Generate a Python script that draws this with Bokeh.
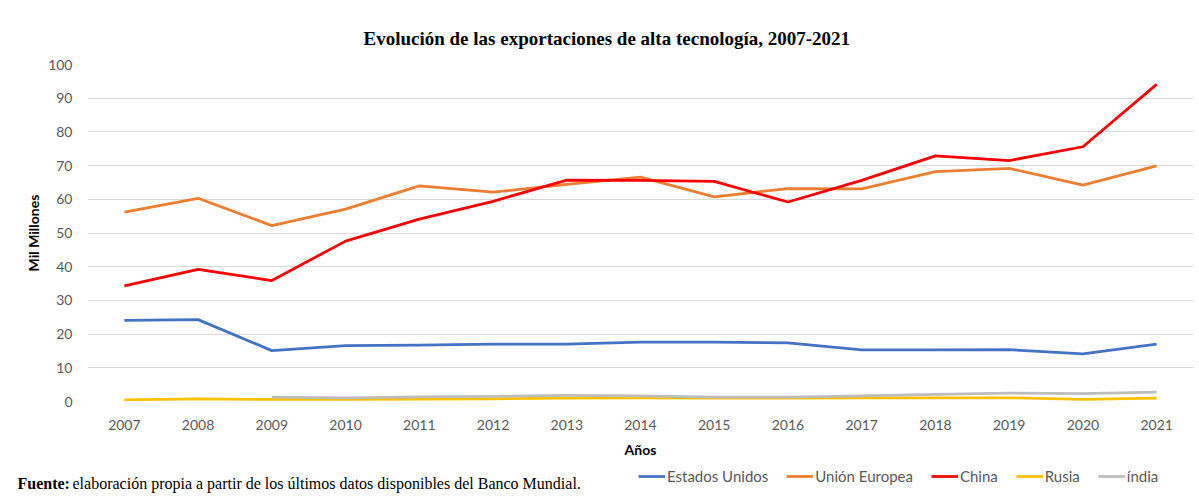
from bokeh.plotting import figure
from bokeh.models import Range1d, FixedTicker, Label, Legend, LegendItem
from bokeh.layouts import column
from bokeh.embed import file_html
from bokeh.resources import INLINE

years = list(range(2007, 2022))
estados_unidos = [24.1, 24.3, 15.1, 16.6, 16.7, 17.0, 17.0, 17.6, 17.6, 17.4, 15.3, 15.3, 15.4, 14.1, 17.0]
union_europea = [56.2, 60.3, 52.2, 57.1, 64.0, 62.1, 64.4, 66.6, 60.7, 63.2, 63.1, 68.2, 69.2, 64.2, 69.9]
china = [34.3, 39.2, 35.9, 47.6, 54.1, 59.4, 65.7, 65.6, 65.3, 59.2, 65.6, 72.9, 71.5, 75.6, 94.1]
rusia = [0.5, 0.8, 0.6, 0.6, 0.7, 0.8, 1.0, 1.1, 1.0, 1.0, 1.1, 1.1, 1.1, 0.6, 1.0]
india_years = list(range(2009, 2022))
india = [1.3, 1.1, 1.4, 1.5, 1.8, 1.7, 1.3, 1.3, 1.7, 2.1, 2.5, 2.3, 2.8]
y_ticks = list(range(0, 101, 10))

names = ["Estados Unidos", "Unión Europea", "China", "Rusia", "índia"]
colors = ["#4472C4", "#ED7D31", "#FF0000", "#FFC000", "#BDBDBD"]
series = [(years, estados_unidos), (years, union_europea), (years, china),
          (years, rusia), (india_years, india)]

W = 1196
H1 = 460
H2 = 40

p = figure(width=W, height=H1, output_backend="svg", toolbar_location=None,
           x_range=Range1d(2006.5, 2021.5), y_range=Range1d(0, 100),
           min_border_left=87, min_border_right=3, min_border_top=64, min_border_bottom=56)
p.frame_align = False
p.outline_line_color = None
p.border_fill_color = "white"

p.title.text = "Evolución de las exportaciones de alta tecnología, 2007-2021"
p.title.text_font = "Liberation Serif"
p.title.text_font_size = "19px"
p.title.text_font_style = "bold"
p.title.text_color = "#000000"
p.title.align = "left"
p.title.offset = 276
p.title.standoff = 31

p.xgrid.grid_line_color = None
p.ygrid.grid_line_color = "#D9D9D9"
p.ygrid.grid_line_width = 1
p.yaxis.ticker = FixedTicker(ticks=y_ticks)
p.xaxis.ticker = FixedTicker(ticks=years)
for ax in (p.xaxis[0], p.yaxis[0]):
    ax.axis_line_color = None
    ax.major_tick_line_color = None
    ax.minor_tick_line_color = None
    ax.major_label_text_font = "Lato"
    ax.major_label_text_font_size = "14px"
    ax.major_label_text_color = "#595959"
    ax.axis_label_text_font = "Lato"
    ax.axis_label_text_font_size = "14px"
    ax.axis_label_text_font_style = "bold"
    ax.axis_label_text_color = "#000000"
p.yaxis.major_label_standoff = 9
p.yaxis.axis_label = "Mil Millones"
p.yaxis.axis_label_standoff = 3
p.xaxis.major_label_standoff = 12
p.xaxis.axis_label = "Años"
p.xaxis.axis_label_standoff = 8

for (xs, ys), c in zip(series, colors):
    p.line(xs, ys, line_color=c, line_width=2.75, line_join="round")

# bottom strip: legend + source note
q = figure(width=W, height=H2, output_backend="svg", toolbar_location=None,
           x_range=Range1d(0, W), y_range=Range1d(0, H2),
           min_border_left=0, min_border_right=0, min_border_top=0, min_border_bottom=0)
q.frame_align = False
q.axis.visible = False
q.grid.visible = False
q.outline_line_color = None
q.border_fill_color = "white"

legend_renderers = []
for (xs, ys), c in zip(series, colors):
    r = q.line(xs, ys, line_color=c, line_width=2.75)
    r.visible = False
    legend_renderers.append(r)

legend = Legend(items=[LegendItem(label=n, renderers=[r]) for n, r in zip(names, legend_renderers)],
                orientation="horizontal", location=(638, 14),
                padding=0, margin=0, spacing=18, glyph_width=27, glyph_height=20,
                label_standoff=2, label_height=20,
                label_text_font="Lato", label_text_font_size="15px", label_text_color="#595959",
                border_line_color=None, background_fill_alpha=0)
q.add_layout(legend, "center")

fuente = Label(x=17, y=17, text="Fuente:", text_font="Liberation Serif",
               text_font_size="16px", text_font_style="bold", text_align="left",
               text_baseline="middle", text_color="#000000")
q.add_layout(fuente)
resto = Label(x=72, y=17,
              text="elaboración propia a partir de los últimos datos disponibles del Banco Mundial.",
              text_font="Liberation Serif", text_font_size="16px", text_align="left",
              text_baseline="middle", text_color="#000000")
q.add_layout(resto)

layout = column(p, q, spacing=0)
open("out.html", "w").write(file_html(layout, INLINE))
